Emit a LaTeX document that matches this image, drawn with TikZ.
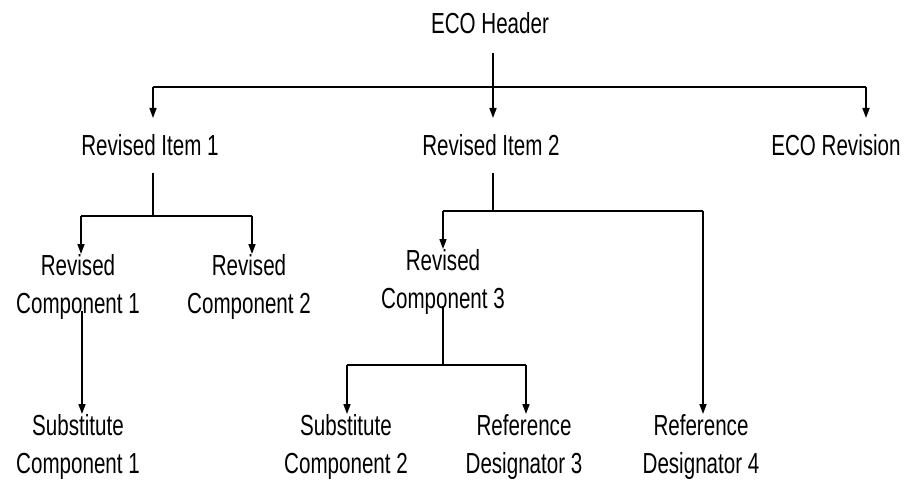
\documentclass[tikz,border=0pt]{standalone}
\usepackage{fontspec}
\setmainfont[FakeStretch=0.71]{Liberation Sans}
\usetikzlibrary{arrows.meta,calc}
\begin{document}
\begin{tikzpicture}[x=1pt,y=-1pt,
  lbl/.style={inner sep=0pt, anchor=north, align=center,
              font=\fontsize{29}{38}\selectfont},
  link/.style={line width=1.6pt},
  arr/.style={link,-{Triangle[width=7pt,length=10pt]}}]
\useasboundingbox (0,0) rectangle (910,481);

% labels
\node[lbl] (hdr)   at (490,12)  {ECO Header};
\node[lbl] (item1) at (150,134) {Revised Item 1};
\node[lbl] (item2) at (491,134) {Revised Item 2};
\node[lbl] (rev)   at (836,134) {ECO Revision};
\node[lbl] (comp1) at (78,254)  {Revised\\Component 1};
\node[lbl] (comp2) at (249,254) {Revised\\Component 2};
\node[lbl] (comp3) at (443,249) {Revised\\Component 3};
\node[lbl] (sub1)  at (78,414)  {Substitute\\Component 1};
\node[lbl] (sub2)  at (346,414) {Substitute\\Component 2};
\node[lbl] (rd3)   at (524,414) {Reference\\Designator 3};
\node[lbl] (rd4)   at (701,414) {Reference\\Designator 4};

% junction points of the branching bars
\coordinate (j0)  at (493,87);
\coordinate (j0l) at (153,87);
\coordinate (j0r) at (866,87);
\coordinate (j1)  at (153,216);
\coordinate (j1l) at (81,216);
\coordinate (j1r) at (252,216);
\coordinate (j2)  at (493,211);
\coordinate (j2l) at (443,211);
\coordinate (j2r) at (703,211);
\coordinate (j3)  at (443,365);
\coordinate (j3l) at (347,365);
\coordinate (j3r) at (526,365);

% ECO header to its three children
\draw[link] ($(j0 |- hdr.south)+(0,19)$) -- (j0);
\draw[link] (j0l) -- (j0r);
\draw[arr,shorten >=16pt] (j0l) -- (j0l |- item1.north);
\draw[arr,shorten >=16pt] (j0)  -- (j0 |- item2.north);
\draw[arr,shorten >=16pt] (j0r) -- (j0r |- rev.north);

% revised item 1
\draw[link] ($(j1 |- item1.south)+(0,17)$) -- (j1);
\draw[link] (j1l) -- (j1r);
\draw[arr] (j1l) -- (j1l |- comp1.north);
\draw[arr] (j1r) -- (j1r |- comp2.north);

% revised item 2
\draw[link] ($(j2 |- item2.south)+(0,17)$) -- (j2);
\draw[link] (j2l) -- (j2r);
\draw[arr] (j2l) -- (j2l |- comp3.north);
\draw[arr] (j2r) -- (j2r |- rd4.north);

% revised component 1
\draw[arr] ($(comp1.south -| 82,0)+(0,-8)$) -- (sub1.north -| 82,0);

% revised component 3
\draw[link] ($(j3 |- comp3.south)+(0,-8)$) -- (j3);
\draw[link] (j3l) -- (j3r);
\draw[arr] (j3l) -- (j3l |- sub2.north);
\draw[arr] (j3r) -- (j3r |- rd3.north);
\end{tikzpicture}
\end{document}
